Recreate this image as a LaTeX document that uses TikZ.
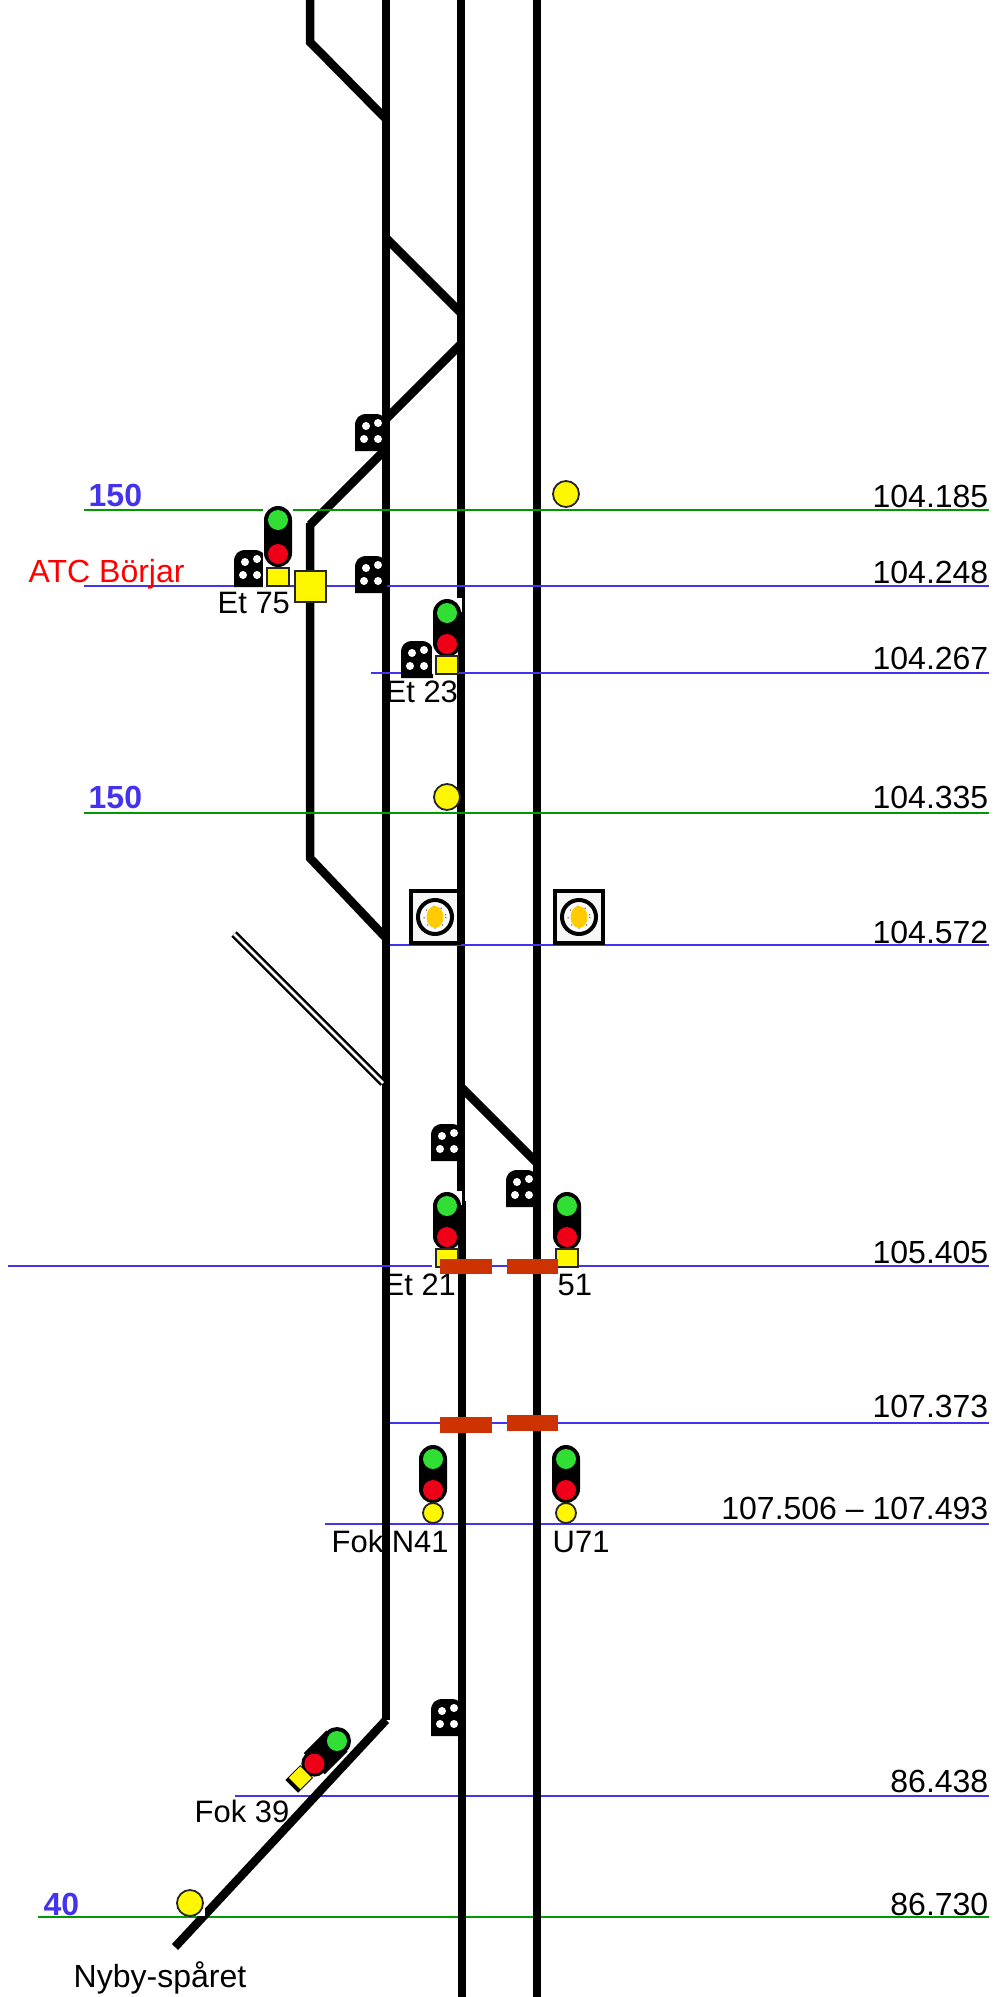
\documentclass[tikz,border=0pt]{standalone}
\usepackage{fontspec}
\setmainfont{Liberation Sans}
\usepackage{tikz}
\definecolor{signalgreen}{RGB}{48,222,52}
\definecolor{signalred}{RGB}{240,0,24}
\definecolor{signalyellow}{RGB}{255,247,0}
\definecolor{speedblue}{RGB}{68,51,238}
\definecolor{speedgreen}{RGB}{0,153,0}
\definecolor{sectionred}{RGB}{204,51,0}
\definecolor{lampamber}{RGB}{255,204,0}
\tikzset{
	rail/.style={line width=0.085cm, color=black},
	blueline/.style={line width=0.022cm, color=speedblue},
	greenline/.style={line width=0.022cm, color=speedgreen},
	lamp/.style={draw=black!85, line width=0.018cm},
	sign/.style={anchor=base west, inner sep=0pt, font=\fontsize{8.8}{11}\selectfont},
	kmsign/.style={anchor=base east, inner sep=0pt, font=\fontsize{9.1}{11}\selectfont},
	speedsign/.style={sign, color=speedblue, font=\fontsize{9.1}{11}\selectfont\bfseries}
}
\def\dwarfsignal(#1,#2){
	\fill (#1, #2+37) -- (#1, #2+12) .. controls (#1, #2+4) and (#1+4, #2) .. (#1+12, #2) -- (#1+20, #2) .. controls (#1+28, #2) and (#1+32, #2+4) .. (#1+32, #2+12) -- (#1+32, #2+37) -- cycle;
	\fill[white] (#1+11, #2+12) circle (4);
	\fill[white] (#1+23, #2+9) circle (4);
	\fill[white] (#1+9, #2+25) circle (4);
	\fill[white] (#1+23, #2+25) circle (4);
}
\def\mainsignal(#1,#2,#3){
	\fill[rounded corners=0.14cm] (#1-14, #2) rectangle (#1+14, #2+#3+27);
	\fill[signalgreen] (#1, #2+14) circle (10);
	\fill[signalred] (#1, #2+14+#3) circle (10);
}
\def\whitepatch(#1,#2,#3){
	\fill[white] (#1-15, #2) rectangle (#1+15, #2+14);
	\fill[white] (#1-15, #2+14) rectangle (#1+11, #3);
}
\def\ballast(#1,#2){
	\draw[lamp, fill=signalyellow] (#1-11, #2-9) rectangle (#1+11, #2+9);
}
\def\balise(#1,#2){
	\draw[lamp, fill=signalyellow] (#1, #2) circle (13);
}
\def\framedlamp(#1,#2){
	\draw[line width=0.04cm, fill=black!3] (#1-24, #2-26) rectangle (#1+24, #2+26);
	\draw[line width=0.04cm, fill=white] (#1, #2) circle (17);
	\draw[black!55, line width=0.012cm, dotted] (#1, #2) circle (11);
	\fill[lampamber] (#1, #2) ellipse (8.5 and 11);
}

\begin{document}
\begin{tikzpicture}[x=0.01cm, y=-0.01cm]
			%%%%% FRAME %%%%%
			\useasboundingbox (0, 0) rectangle (995, 1997);
			
			% labels that the tracks run over
			\node[sign] (lblEt23) at (385, 702) {Et 23};
			\node[sign] (lblEt21) at (383, 1295) {Et 21};
			\node[sign] (lblFokN41) at (331, 1552) {Fok N41};
			\node[sign] (lblFok39) at (194, 1822) {Fok 39};
			
			\draw[blueline] (325, 1524) -- (989, 1524);
			\draw[blueline] (235, 1796) -- (989, 1796);
			\draw[greenline] (38, 1917) -- (989, 1917);
			
			%%%%% TRACKS %%%%%
			\draw[rail] (386, 0) -- (386, 1720);
			\draw[rail] (461, 0) -- (461, 1205) -- (462, 1205) -- (462, 1997);
			\draw[rail] (537, 0) -- (537, 1997);
			
			\draw[rail] (310, 0) -- (310, 42) -- (386, 119);
			\draw[rail] (386, 238) -- (461, 313);
			\draw[rail] (461, 344) -- (386, 419);
			\draw[rail] (386, 449) -- (310, 525);
			\draw[rail] (310, 523) -- (310, 858) -- (386, 938);
			\draw[rail] (461, 1087) -- (537, 1163);
			\draw[rail] (386, 1720) -- (175, 1947);
			
			\draw[line width=0.075cm] (234, 934) -- (383, 1083);
			\draw[line width=0.025cm, white] (234, 934) -- (383, 1083);
			
			%%%%% LINES %%%%%
			\draw[greenline] (84, 510) -- (989, 510);
			\draw[blueline] (84, 586) -- (989, 586);
			\draw[blueline] (371, 673) -- (989, 673);
			\draw[greenline] (84, 813) -- (989, 813);
			\draw[blueline] (390, 945) -- (989, 945);
			\draw[blueline] (8, 1266) -- (989, 1266);
			\draw[blueline] (390, 1423) -- (989, 1423);
			
			%%%%% SIGNALS %%%%%
			\dwarfsignal(355, 414)
			\dwarfsignal(355, 556)
			\dwarfsignal(234, 550)
			\dwarfsignal(401, 641)
			\dwarfsignal(431, 1124)
			\dwarfsignal(506, 1170)
			\dwarfsignal(431, 1699)
			
			\whitepatch(278, 505, 587)
			\mainsignal(278, 506, 34)
			\ballast(278, 577)
			
			\whitepatch(447, 598, 674)
			\mainsignal(447, 599, 31)
			\ballast(447, 665)
			
			\whitepatch(447, 1191, 1267)
			\mainsignal(447, 1192, 31)
			\ballast(447, 1258)
			
			\whitepatch(567, 1191, 1267)
			\mainsignal(567, 1192, 31)
			\ballast(567, 1258)
			
			\whitepatch(433, 1444, 1522)
			\mainsignal(433, 1445, 31)
			\draw[lamp, fill=signalyellow] (433, 1513) circle (10);
			
			\whitepatch(566, 1444, 1522)
			\mainsignal(566, 1445, 31)
			\draw[lamp, fill=signalyellow] (566, 1513) circle (10);
			
			\begin{scope}[shift={(337, 1741)}, rotate=-45]
				\fill (0, 0) circle (14);
				\fill (0, 32) circle (13);
				\fill (-15, 0) rectangle (15, 32);
				\fill[signalgreen] (0, 0) circle (10);
				\fill[signalred] (0, 32) circle (10);
				\fill (-9, 43) rectangle (9, 64);
				\fill[signalyellow] (-8, 44) rectangle (8, 60);
			\end{scope}
			
			\balise(566, 494)
			\balise(447, 797)
			\fill[white] (174, 1903) rectangle (205, 1916);
			\balise(190, 1903)
			
			\draw[line width=0.02cm, draw=black!85, fill=signalyellow] (295, 571) rectangle (326, 602);
			
			\framedlamp(435, 917)
			\framedlamp(579, 917)
			
			\fill[sectionred] (440, 1259) rectangle (492, 1274);
			\fill[sectionred] (507, 1259) rectangle (558, 1274);
			\fill[sectionred] (440, 1417) rectangle (492, 1433);
			\fill[sectionred] (507, 1415) rectangle (558, 1431);
			
			%%%%% TEXTS %%%%%
			\node[speedsign] (speed150a) at (88, 506) {150};
			\node[speedsign] (speed150b) at (88, 808) {150};
			\node[speedsign] (speed40) at (43, 1915) {40};
			\node[sign, color=red, font=\fontsize{9.1}{11}\selectfont] (lblAtc) at (28, 582) {ATC Börjar};
			\node[sign] (lblEt75) at (217, 613) {Et 75};
			\node[sign] (lbl51) at (557, 1295) {51};
			\node[sign] (lblU71) at (552, 1552) {U71};
			\node[sign, font=\fontsize{9.1}{11}\selectfont] (lblNyby) at (73, 1987) {Nyby-spåret};
			
			\node[kmsign] (km104a) at (989, 507) {104.185};
			\node[kmsign] (km104b) at (989, 583) {104.248};
			\node[kmsign] (km104c) at (989, 669) {104.267};
			\node[kmsign] (km104d) at (989, 808) {104.335};
			\node[kmsign] (km104e) at (989, 943) {104.572};
			\node[kmsign] (km105) at (989, 1263) {105.405};
			\node[kmsign] (km107a) at (989, 1417) {107.373};
			\node[kmsign] (km107b) at (989, 1519) {107.506 – 107.493};
			\node[kmsign] (km86a) at (989, 1792) {86.438};
			\node[kmsign] (km86b) at (989, 1915) {86.730};
		\end{tikzpicture}
\end{document}
